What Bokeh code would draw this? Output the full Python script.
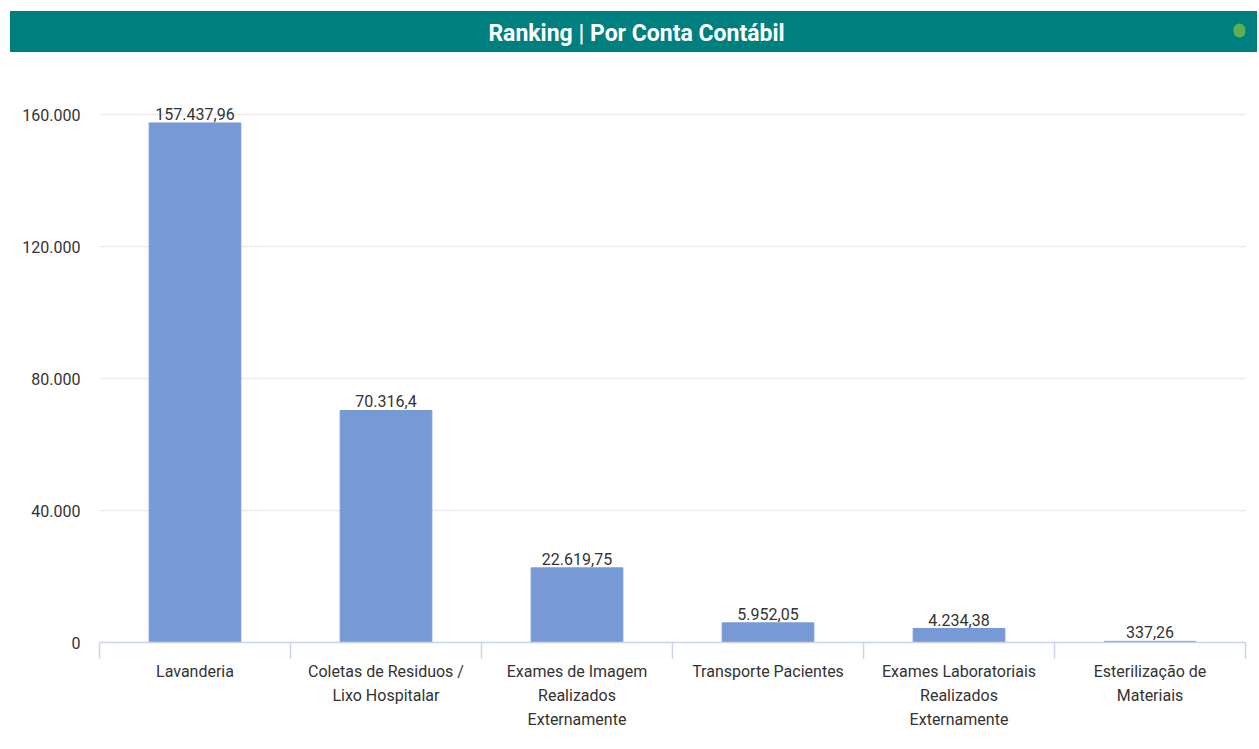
from bokeh.plotting import figure
from bokeh.models import Range1d, FixedTicker, CustomJSTickFormatter, ColumnDataSource, BoxAnnotation
from bokeh.layouts import column
from bokeh.embed import file_html
from bokeh.resources import INLINE
from bokeh.core.properties import value

# ---- data ----
categories = [
    "Lavanderia",
    "Coletas de Residuos / Lixo Hospitalar",
    "Exames de Imagem Realizados Externamente",
    "Transporte Pacientes",
    "Exames Laboratoriais Realizados Externamente",
    "Esterilização de Materiais",
]
tick_labels = [
    "Lavanderia",
    "Coletas de Residuos /\nLixo Hospitalar",
    "Exames de Imagem\nRealizados\nExternamente",
    "Transporte Pacientes",
    "Exames Laboratoriais\nRealizados\nExternamente",
    "Esterilização de\nMateriais",
]
values = [157437.96, 70316.4, 22619.75, 5952.05, 4234.38, 337.26]
y_ticks = [0, 40000, 80000, 120000, 160000]
title_text = "Ranking | Por Conta Contábil"

FONT = "Roboto"
TEAL = "#007F7F"
BAR = "#7799D6"
TXT = "#333333"


def br(v):
    s = f"{v:,.2f}".replace(",", "#").replace(".", ",").replace("#", ".")
    s = s.rstrip("0").rstrip(",")
    return s


xs = list(range(len(categories)))
src = ColumnDataSource(dict(x=xs, value=values, label=[br(v) for v in values], cat=categories))

W = 1247
BL, BR = 89, 12  # left / right borders shared by header and chart

# ---- header (x in page pixels) ----
h = figure(width=W, height=41, output_backend="svg", toolbar_location=None,
           x_range=Range1d(10 + BL, 10 + W - BR), y_range=Range1d(0, 41),
           min_border_left=BL, min_border_right=BR, min_border_top=0, min_border_bottom=0,
           margin=(11, 0, 0, 10), styles={"background-color": TEAL})
h.axis.visible = False
h.grid.visible = False
h.outline_line_color = None
h.background_fill_color = None
h.border_fill_color = None
h.text(x=[636], y=[19], text=[title_text], text_align="center", text_baseline="middle",
       text_font=value(FONT), text_font_style="bold", text_font_size="23px", text_color="white")
h.add_layout(BoxAnnotation(left=1233, right=1245, bottom=15, top=29, fill_color="#5BB04F",
                           fill_alpha=1, line_color=None, border_radius=6))

# ---- main chart ----
p = figure(width=W, height=696, output_backend="svg", toolbar_location=None,
           x_range=Range1d(-0.5, len(categories) - 0.5), y_range=Range1d(0, 167879),
           min_border_left=BL, min_border_right=BR, min_border_top=36, min_border_bottom=106,
           margin=(0, 0, 0, 10))
p.outline_line_color = None
p.background_fill_color = "white"
p.border_fill_color = "white"

p.vbar(x="x", top="value", width=0.48, source=src, fill_color=BAR, line_color=BAR)
p.text(x="x", y="value", text="label", source=src, text_align="center", text_baseline="bottom",
       y_offset=-3, text_font=value(FONT), text_font_size="16px", text_color=TXT)

p.xgrid.grid_line_color = None
p.ygrid.grid_line_color = "#EBEBEB"
p.ygrid.grid_line_width = 1.5

p.yaxis.ticker = FixedTicker(ticks=y_ticks)
p.yaxis.formatter = CustomJSTickFormatter(
    code="return Math.round(tick).toString().replace(/\\B(?=(\\d{3})+(?!\\d))/g, '.');")
p.yaxis.axis_line_color = None
p.yaxis.major_tick_line_color = None
p.yaxis.minor_tick_line_color = None
p.yaxis.major_tick_out = 0
p.yaxis.minor_tick_out = 0
p.yaxis.major_label_standoff = 19
p.yaxis.major_label_text_font = FONT
p.yaxis.major_label_text_font_size = "16px"
p.yaxis.major_label_text_color = TXT

p.xaxis.ticker = FixedTicker(ticks=xs, minor_ticks=[i - 0.5 for i in range(len(categories) + 1)])
p.xaxis.major_label_overrides = {i: lab for i, lab in zip(xs, tick_labels)}
p.xaxis.major_tick_line_color = None
p.xaxis.major_tick_out = 0
p.xaxis.major_tick_in = 0
p.xaxis.minor_tick_line_color = "#C9D4EA"
p.xaxis.minor_tick_line_width = 1.5
p.xaxis.minor_tick_out = 16
p.xaxis.minor_tick_in = 0
p.xaxis.axis_line_color = "#C9D4EA"
p.xaxis.axis_line_width = 1.5
p.xaxis.major_label_standoff = 3
p.xaxis.major_label_text_font = FONT
p.xaxis.major_label_text_font_size = "16px"
p.xaxis.major_label_text_color = TXT
p.xaxis.major_label_text_line_height = 1.28

layout = column(h, p, spacing=0)
open("out.html", "w").write(file_html(layout, INLINE))
